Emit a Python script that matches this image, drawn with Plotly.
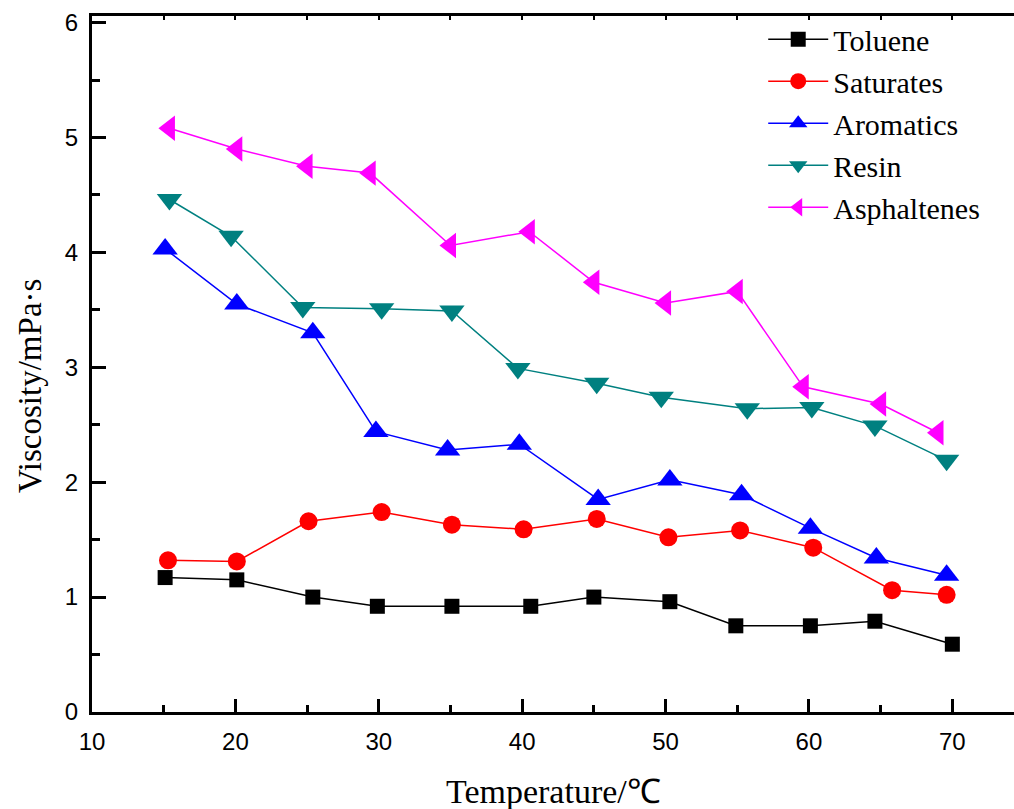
import plotly.graph_objects as go

# Data
toluene_t = [15.1, 20.1, 25.4, 29.9, 35.1, 40.6, 45.0, 50.3, 54.9, 60.1, 64.6, 70.0]
toluene_v = [1.17, 1.15, 1.00, 0.92, 0.92, 0.92, 1.00, 0.96, 0.75, 0.75, 0.79, 0.59]

saturates_t = [15.3, 20.1, 25.1, 30.2, 35.1, 40.1, 45.2, 50.2, 55.2, 60.3, 65.8, 69.6]
saturates_v = [1.32, 1.31, 1.66, 1.74, 1.63, 1.59, 1.68, 1.52, 1.58, 1.43, 1.06, 1.02]

aromatics_t = [15.1, 20.1, 25.4, 29.8, 34.8, 39.8, 45.3, 50.3, 55.3, 60.1, 64.7, 69.6]
aromatics_v = [4.03, 3.55, 3.30, 2.44, 2.28, 2.33, 1.85, 2.02, 1.89, 1.60, 1.34, 1.19]

resin_t = [15.4, 19.7, 24.7, 30.2, 35.1, 39.7, 45.2, 49.7, 55.7, 60.2, 64.6, 69.6]
resin_v = [4.46, 4.14, 3.52, 3.51, 3.49, 2.99, 2.86, 2.74, 2.64, 2.65, 2.49, 2.19]

asph_t = [15.4, 20.1, 25.0, 29.4, 35.0, 40.5, 45.0, 50.0, 55.0, 59.6, 65.0, 69.0]
asph_v = [5.08, 4.90, 4.75, 4.69, 4.06, 4.18, 3.74, 3.56, 3.66, 2.83, 2.68, 2.43]

x_ticks = [10, 20, 30, 40, 50, 60, 70]
y_ticks = [0, 1, 2, 3, 4, 5, 6]

series = [
    ("Toluene", toluene_t, toluene_v, "#000000", "square", 15),
    ("Saturates", saturates_t, saturates_v, "#FF0000", "circle", 18),
    ("Aromatics", aromatics_t, aromatics_v, "#0000FF", "triangle-up", 22),
    ("Resin", resin_t, resin_v, "#008080", "triangle-down", 22),
    ("Asphaltenes", asph_t, asph_v, "#FF00FF", "triangle-left", 22),
]

fig = go.Figure()
for name, xs, ys, col, sym, sz in series:
    fig.add_trace(go.Scatter(
        x=xs, y=ys, name=name, mode="lines+markers",
        line=dict(color=col, width=1.5),
        marker=dict(symbol=sym, size=sz, color=col, line=dict(width=0)),
    ))

# invisible trace to drive the top axis with small ticks
fig.add_trace(go.Scatter(x=[10], y=[0], xaxis="x2", showlegend=False,
                         mode="markers", marker=dict(opacity=0), hoverinfo="skip"))

serif = "Liberation Serif, Times New Roman, serif"
sans = "Liberation Sans, Arial, sans-serif"
xr = [10, 74.3]
yr = [0, 6.057]

fig.update_layout(
    width=1014, height=809,
    margin=dict(l=92, r=0, t=16, b=97, autoexpand=False),
    plot_bgcolor="white", paper_bgcolor="white",
    showlegend=True,
    legend=dict(
        x=0.728, y=1.004, xanchor="left", yanchor="top",
        font=dict(family=serif, size=30, color="black"),
        bgcolor="rgba(0,0,0,0)", borderwidth=0,
        tracegroupgap=0, itemwidth=60,
    ),
    xaxis=dict(
        range=xr, tickvals=x_ticks, ticks="inside", ticklen=13, tickwidth=2.5,
        tickcolor="black", showline=True, linecolor="black", linewidth=3,
        showgrid=False, zeroline=False, automargin=False, ticklabelstandoff=6,
        tickfont=dict(family=sans, size=24, color="black"),
        minor=dict(dtick=5, ticks="inside", ticklen=7, tickwidth=2.5, tickcolor="black", showgrid=False),
    ),
    xaxis2=dict(
        range=xr, overlaying="x", side="top", ticks="inside", ticklen=4, tickwidth=1.5,
        dtick=5, tick0=10, tickcolor="black", showticklabels=False, showline=True,
        linecolor="black", linewidth=3, showgrid=False, zeroline=False, automargin=False,
    ),
    yaxis=dict(
        range=yr, tickvals=y_ticks, ticks="inside", ticklen=14, tickwidth=2.5,
        tickcolor="black", showline=True, linecolor="black", linewidth=3,
        showgrid=False, zeroline=False, automargin=False, ticklabelstandoff=6,
        tickfont=dict(family=sans, size=24, color="black"),
        minor=dict(dtick=0.5, ticks="inside", ticklen=8, tickwidth=2.5, tickcolor="black", showgrid=False),
    ),
    annotations=[
        dict(text="Temperature/℃", xref="paper", yref="paper", x=0.5, y=0,
             xanchor="center", yanchor="middle", yshift=-79, showarrow=False,
             font=dict(family=serif, size=34, color="black")),
        dict(text="Viscosity/mPa·s", xref="paper", yref="paper", x=0, y=0.5,
             xanchor="center", yanchor="middle", xshift=-62, yshift=-22, textangle=-90,
             showarrow=False, font=dict(family=serif, size=33, color="black")),
    ],
)

fig.write_html(
    "out.html",
    config={"displayModeBar": False},
    post_script="document.body.style.margin='0';document.body.style.overflow='hidden';",
)
